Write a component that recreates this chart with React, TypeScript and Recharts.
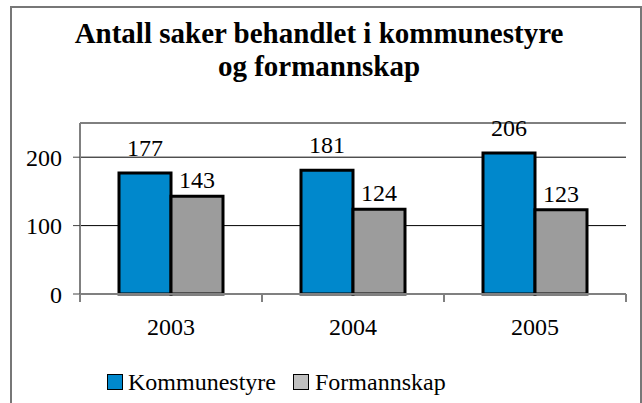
import React from 'react';
import { BarChart, Bar, XAxis, YAxis, CartesianGrid, LabelList, Legend } from 'recharts';

const years = ['2003', '2004', '2005'];
const kommunestyre = [177, 181, 206];
const formannskap = [143, 124, 123];
const yTicks = [0, 100, 200];
const yMax = 250;
const titleLines = ['Antall saker behandlet i kommunestyre', 'og formannskap'];

const data = years.map((y, i) => ({ year: y, Kommunestyre: kommunestyre[i], Formannskap: formannskap[i] }));

const FONT = "'Times New Roman', 'Liberation Serif', Tinos, 'DejaVu Serif', serif";
const BLUE = '#0088cc';
const GRAY = '#9c9c9c';
const LEGEND_GRAY = '#c0c0c0';
const AXIS = '#808080';

const XTick = (props: any) => {
  const { x, y, payload, index } = props;
  const half = payload && payload.offset ? payload.offset : 91;
  const axisY = y - 24;
  return (
    <g>
      <line x1={x - half} x2={x - half} y1={axisY} y2={axisY + 8} stroke={AXIS} strokeWidth={2} />
      {index === years.length - 1 && (
        <line x1={x + half} x2={x + half} y1={axisY} y2={axisY + 8} stroke={AXIS} strokeWidth={2} />
      )}
      <text x={x} y={y} dy="0.71em" textAnchor="middle" fontSize={24} style={{ fontFamily: FONT }} fill="#000">
        {payload.value}
      </text>
    </g>
  );
};

const LegendContent = () => (
  <div
    style={{
      display: 'flex',
      alignItems: 'center',
      fontFamily: FONT,
      fontSize: 24,
      lineHeight: '24px',
      paddingLeft: 107,
      color: '#000',
    }}
  >
    <span style={{ display: 'inline-block', width: 14, height: 14, background: BLUE, border: '1px solid #000', marginRight: 5 }} />
    <span style={{ fontFamily: FONT }}>Kommunestyre</span>
    <span
      style={{ display: 'inline-block', width: 14, height: 14, background: LEGEND_GRAY, border: '1px solid #000', marginLeft: 17, marginRight: 6 }}
    />
    <span style={{ fontFamily: FONT }}>Formannskap</span>
  </div>
);

export default function App() {
  return (
    <div style={{ position: 'absolute', left: 0, top: 0, width: 642, height: 403, overflow: 'hidden', background: '#fff', fontFamily: FONT }}>
      <div
        style={{ position: 'absolute', left: 10, top: 6, width: 628, height: 420, border: '2px solid #777' }}
      />
      <div
        style={{
          position: 'absolute',
          left: 0,
          top: 17,
          width: 638,
          textAlign: 'center',
          fontFamily: FONT,
          fontWeight: 'bold',
          fontSize: 29,
          lineHeight: '33px',
          color: '#000',
        }}
      >
        {titleLines.map((t) => (
          <div key={t}>{t}</div>
        ))}
      </div>
      <div style={{ position: 'absolute', left: 0, top: 0 }}>
        <BarChart
          width={642}
          height={403}
          data={data}
          margin={{ top: 123, right: 16, left: 0, bottom: 79 }}
          barSize={52}
          barGap={0}
          style={{ fontFamily: FONT }}
        >
          <CartesianGrid horizontal vertical={false} stroke="#000" strokeWidth={1} />
          <XAxis
            dataKey="year"
            height={30}
            axisLine={{ stroke: AXIS, strokeWidth: 2 }}
            tickLine={false}
            tickSize={8}
            tickMargin={16}
            tick={<XTick />}
            interval={0}
          />
          <YAxis
            width={80}
            domain={[0, yMax]}
            ticks={yTicks}
            interval={0}
            axisLine={{ stroke: AXIS, strokeWidth: 2 }}
            tickLine={{ stroke: '#444' }}
            tickSize={7}
            tickMargin={11}
            tick={{ fontSize: 24, fill: '#000', style: { fontFamily: FONT } }}
          />
          <Legend
            layout="horizontal"
            verticalAlign="middle"
            align="center"
            wrapperStyle={{ top: 370, left: 0, width: 642 }}
            content={<LegendContent />}
          />
          <Bar dataKey="Kommunestyre" fill={BLUE} stroke="#000" strokeWidth={3} isAnimationActive={false}>
            <LabelList dataKey="Kommunestyre" position="top" offset={17} fontSize={24} fill="#000" style={{ fontFamily: FONT }} />
          </Bar>
          <Bar dataKey="Formannskap" fill={GRAY} stroke="#000" strokeWidth={3} isAnimationActive={false}>
            <LabelList dataKey="Formannskap" position="top" offset={8} fontSize={24} fill="#000" style={{ fontFamily: FONT }} />
          </Bar>
        </BarChart>
      </div>
    </div>
  );
}
